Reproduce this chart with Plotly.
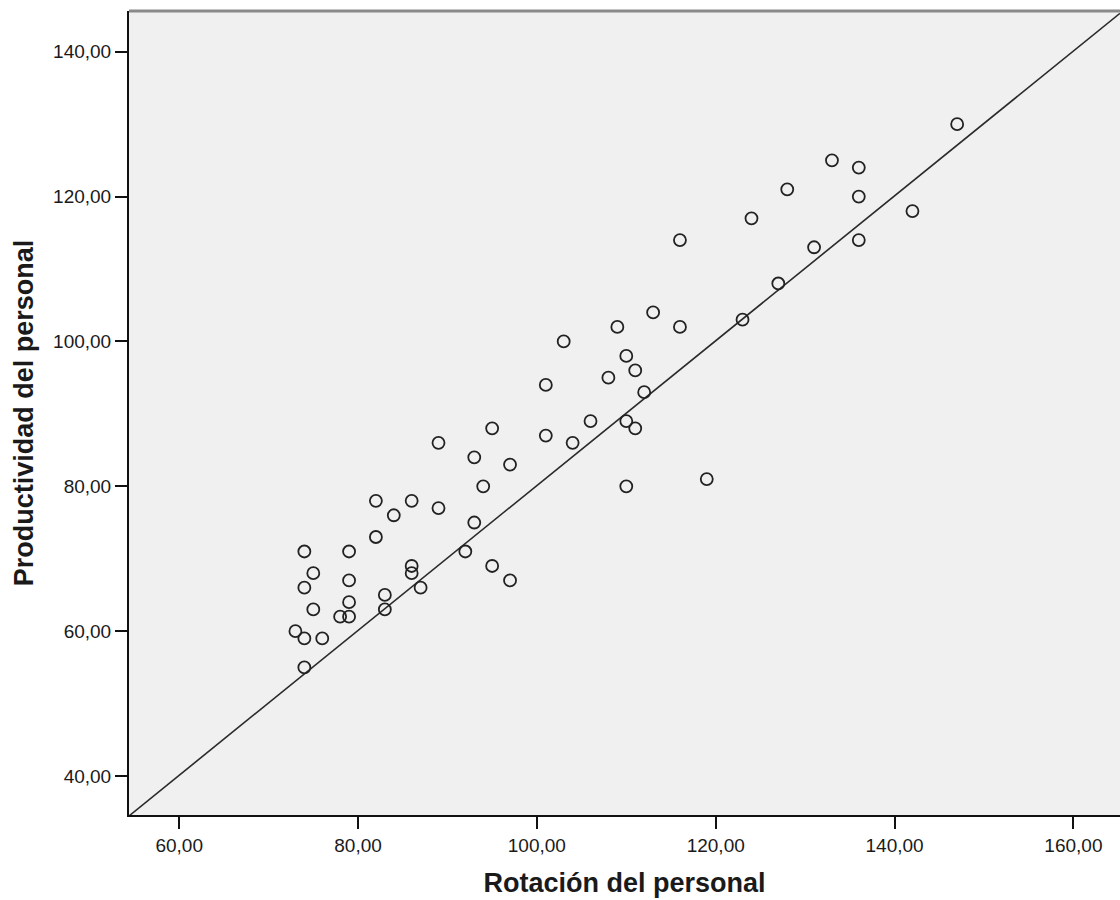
import plotly.graph_objects as go

# Data
rotacion = [147, 133, 136, 128, 136, 142, 124, 116, 131, 136,
            127, 113, 123, 109, 116, 103, 110, 111, 108, 101,
            112, 106, 110, 95, 111, 101, 89, 104, 93, 97,
            119, 94, 110, 82, 86, 89, 84, 93, 82, 74,
            79, 92, 95, 86, 86, 75, 79, 97, 74, 87,
            83, 79, 75, 83, 78, 79, 73, 74, 76, 74]
productividad = [130, 125, 124, 121, 120, 118, 117, 114, 113, 114,
                 108, 104, 103, 102, 102, 100, 98, 96, 95, 94,
                 93, 89, 89, 88, 88, 87, 86, 86, 84, 83,
                 81, 80, 80, 78, 78, 77, 76, 75, 73, 71,
                 71, 71, 69, 69, 68, 68, 67, 67, 66, 66,
                 65, 64, 63, 63, 62, 62, 60, 59, 59, 55]

# Fit line
fit_slope = 1.0
fit_intercept = -19.9

x_range = [54.39, 165.21]
y_range = [34.62, 145.62]
x_ticks = [60, 80, 100, 120, 140, 160]
y_ticks = [40, 60, 80, 100, 120, 140]

fit_x = x_range
fit_y = [fit_slope * v + fit_intercept for v in fit_x]

fig = go.Figure()
fig.add_trace(go.Scatter(
    x=fit_x, y=fit_y, mode="lines",
    line=dict(color="#2a2a2a", width=1.6),
    hoverinfo="skip", showlegend=False,
))
fig.add_trace(go.Scatter(
    x=rotacion, y=productividad, mode="markers",
    marker=dict(symbol="circle-open", size=12, color="#222222",
                line=dict(color="#222222", width=1.8)),
    showlegend=False,
))

tick_font = dict(family="Liberation Sans, Arial, sans-serif", size=19, color="#1a1a1a")
title_font = dict(family="Liberation Sans, Arial, sans-serif", size=27, color="#1a1a1a")

fig.update_layout(
    width=1120, height=900,
    margin=dict(l=129, r=0, t=11, b=85, autoexpand=False),
    paper_bgcolor="white",
    plot_bgcolor="#f0f0f0",
    separators=",.",
    xaxis=dict(
        range=x_range, tickvals=x_ticks, tickformat=".2f",
        showgrid=False, zeroline=False,
        showline=True, linecolor="#111111", linewidth=2,
        ticks="outside", ticklen=12, tickwidth=2, tickcolor="#111111",
        tickfont=tick_font,
        title=dict(text="<b>Rotación del personal</b>", font=title_font, standoff=18),
    ),
    yaxis=dict(
        range=y_range, tickvals=y_ticks, tickformat=".2f",
        showgrid=False, zeroline=False,
        showline=True, linecolor="#111111", linewidth=2,
        ticks="outside", ticklen=12, tickwidth=2, tickcolor="#111111",
        tickfont=tick_font,
        title=dict(text="<b>Productividad del personal</b>", font=title_font, standoff=12),
    ),
    shapes=[dict(type="line", xref="paper", yref="paper", x0=0, x1=1, y0=1, y1=1,
                 line=dict(color="#8a8a8a", width=3))],
)

fig.write_html("out.html")
